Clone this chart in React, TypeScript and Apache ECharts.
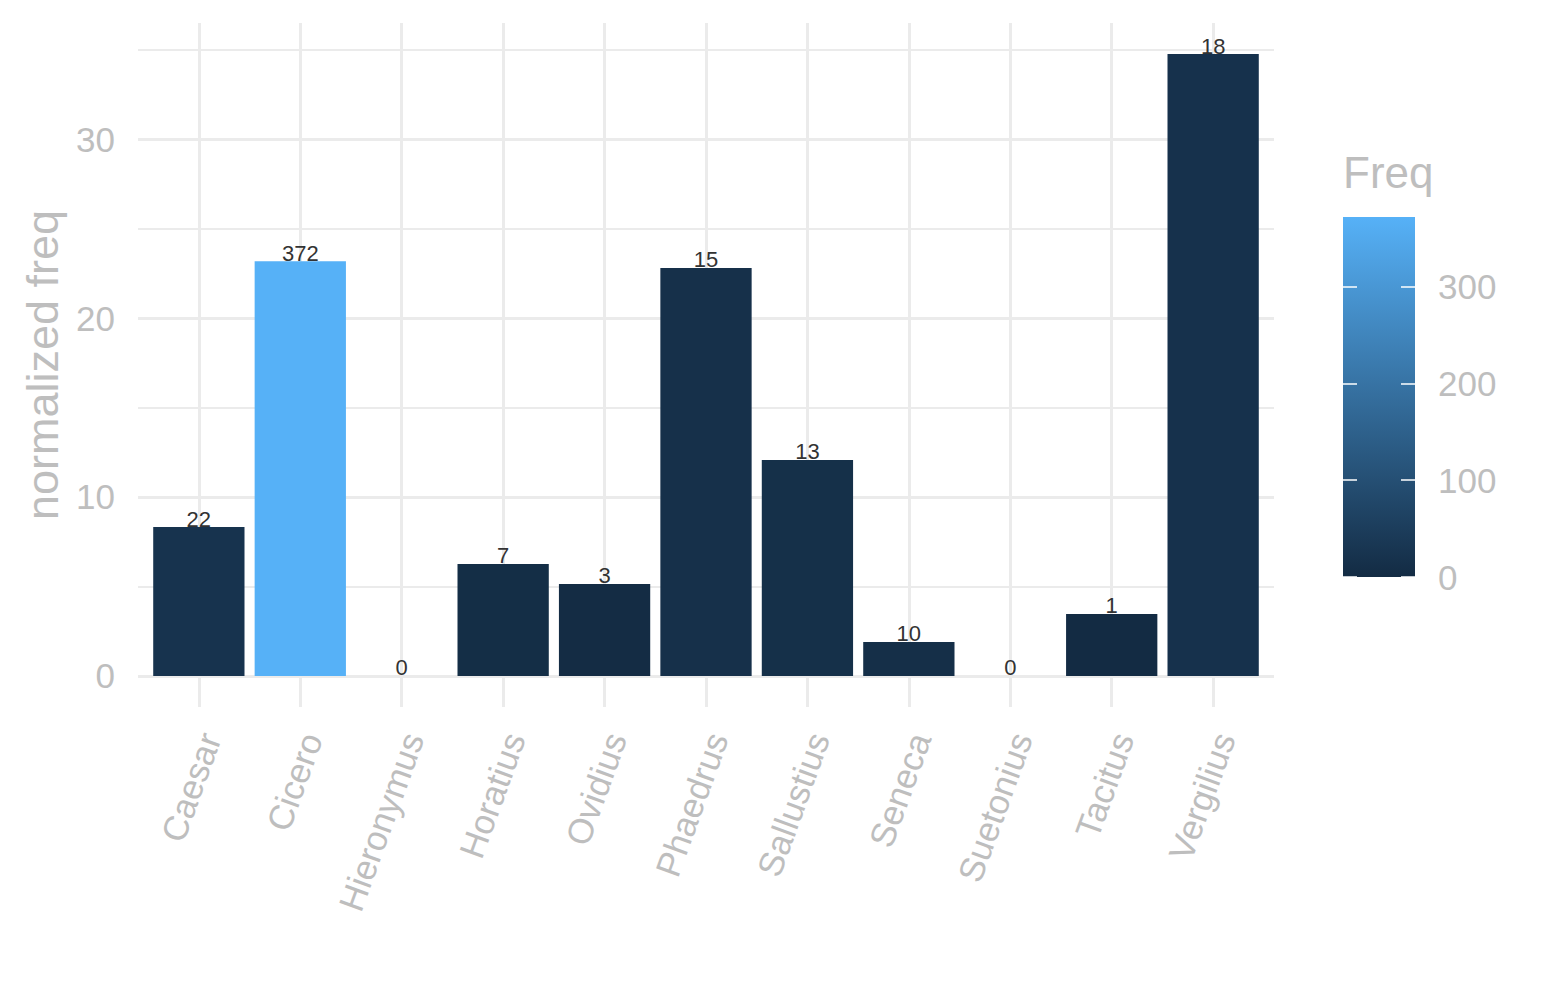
import React, { useEffect, useRef } from 'react'
import * as echarts from 'echarts'

// authors on the x axis
const authors = ['Caesar', 'Cicero', 'Hieronymus', 'Horatius', 'Ovidius', 'Phaedrus', 'Sallustius', 'Seneca', 'Suetonius', 'Tacitus', 'Vergilius'];
// bar heights (normalized freq)
const normFreq = [8.32, 23.18, 0, 6.26, 5.14, 22.8, 12.07, 1.9, 0, 3.46, 34.75];
// raw counts, used for fill colour and the label above each bar
const freq = [22, 372, 0, 7, 3, 15, 13, 10, 0, 1, 18];
// tick labels
const yTicks = [0, 10, 20, 30];
const yMinorTicks = [5, 15, 25, 35];
const legendTicks = [0, 100, 200, 300];

const GRAY = '#BEBEBE';
const GRID = '#EBEBEB';
const FONT = 'Liberation Sans, Arial, Helvetica, sans-serif';

const App: React.FC = () => {
    const chartRef = useRef<HTMLDivElement | null>(null);

    useEffect(() => {
        document.body.style.margin = '0';
        if (!chartRef.current) return;
        const chart = echarts.init(chartRef.current, undefined, { renderer: 'svg' });

        const maxNorm = Math.max(...normFreq);
        const maxFreq = Math.max(...freq);
        // ggplot-style 5% expansion of the y range
        const yMin = -0.05 * maxNorm;
        const yMax = 1.05 * maxNorm;

        const panel = { left: 138, top: 23, width: 1136, height: 684 };
        // category centres span n-1 bands, plus 0.6 band of padding each side
        const band = panel.width / (authors.length - 1 + 1.2);

        const options: any = {
            animation: false,
            textStyle: { fontFamily: FONT },
            title: {
                text: 'Freq',
                left: 1343,
                top: 150,
                padding: 0,
                textStyle: { fontSize: 44, fontWeight: 'normal', color: GRAY, fontFamily: FONT },
            },
            grid: [
                { ...panel, outerBoundsMode: 'none' },
                {
                    left: panel.left + 0.1 * band,
                    top: panel.top,
                    width: band * authors.length,
                    height: panel.height,
                    outerBoundsMode: 'none',
                },
                { left: 1343, top: 217, width: 72, height: 360, outerBoundsMode: 'none' },
            ],
            visualMap: {
                type: 'continuous',
                show: false,
                seriesIndex: 2,
                dimension: 2,
                min: 0,
                max: maxFreq,
                inRange: { color: ['#132B43', '#56B1F7'] },
            },
            xAxis: [
                { type: 'value', gridIndex: 0, min: 0, max: 1, show: false },
                {
                    type: 'category',
                    gridIndex: 1,
                    data: authors,
                    axisLine: { show: false },
                    axisTick: { show: false },
                    splitLine: { show: false },
                    axisLabel: {
                        interval: 0,
                        rotate: 70,
                        fontSize: 35,
                        lineHeight: 24,
                        color: GRAY,
                        margin: 23,
                        verticalAlign: 'top',
                    },
                },
                { type: 'category', gridIndex: 2, data: ['Freq'], show: false },
            ],
            yAxis: [
                {
                    type: 'value',
                    gridIndex: 0,
                    min: yMin,
                    max: yMax,
                    axisLine: { show: false },
                    axisTick: { show: false },
                    splitLine: { show: false },
                    axisLabel: { customValues: yTicks, fontSize: 35, color: GRAY, margin: 23 },
                    name: 'normalized freq',
                    nameLocation: 'middle',
                    nameGap: 66,
                    nameTextStyle: { fontSize: 45, color: GRAY },
                },
                { type: 'value', gridIndex: 1, min: yMin, max: yMax, show: false },
                {
                    type: 'value',
                    gridIndex: 2,
                    position: 'right',
                    min: 0,
                    max: maxFreq,
                    z: 10,
                    axisLine: { show: false },
                    splitLine: { show: false },
                    axisTick: {
                        show: true,
                        inside: true,
                        length: 14,
                        customValues: legendTicks,
                        lineStyle: { color: '#FFFFFF', width: 1.5 },
                    },
                    axisLabel: { customValues: legendTicks, fontSize: 35, color: GRAY, margin: 23 },
                },
                {
                    type: 'value',
                    gridIndex: 2,
                    position: 'left',
                    min: 0,
                    max: maxFreq,
                    z: 10,
                    axisLine: { show: false },
                    splitLine: { show: false },
                    axisLabel: { show: false },
                    axisTick: {
                        show: true,
                        inside: true,
                        length: 14,
                        customValues: legendTicks,
                        lineStyle: { color: '#FFFFFF', width: 1.5 },
                    },
                },
            ],
            series: [
                {
                    // horizontal grid lines across the full panel
                    type: 'line',
                    xAxisIndex: 0,
                    yAxisIndex: 0,
                    data: [],
                    silent: true,
                    z: 0,
                    markLine: {
                        silent: true,
                        z: 0,
                        symbol: 'none',
                        label: { show: false },
                        lineStyle: { color: GRID, type: 'solid' },
                        data: [
                            ...yTicks.map(v => ({ yAxis: v, lineStyle: { width: 3, color: GRID, type: 'solid' } })),
                            ...yMinorTicks.map(v => ({ yAxis: v, lineStyle: { width: 2, color: GRID, type: 'solid' } })),
                        ],
                    },
                },
                {
                    // vertical grid lines at each category
                    type: 'line',
                    xAxisIndex: 1,
                    yAxisIndex: 1,
                    data: [],
                    silent: true,
                    z: 0,
                    markLine: {
                        silent: true,
                        z: 0,
                        symbol: 'none',
                        label: { show: false },
                        lineStyle: { color: GRID, type: 'solid', width: 3 },
                        data: authors.map(a => ({ xAxis: a })),
                    },
                },
                {
                    type: 'bar',
                    xAxisIndex: 1,
                    yAxisIndex: 1,
                    z: 5,
                    barWidth: '90%',
                    data: authors.map((a, i) => [a, normFreq[i], freq[i]]),
                    encode: { x: 0, y: 1 },
                    label: {
                        show: true,
                        position: 'top',
                        distance: -3,
                        fontSize: 22,
                        color: '#333333',
                        formatter: (p: any) => String(p.data[2]),
                    },
                },
                {
                    // colour bar of the Freq legend
                    type: 'bar',
                    xAxisIndex: 2,
                    yAxisIndex: 2,
                    z: 2,
                    silent: true,
                    barWidth: '100%',
                    data: [maxFreq],
                    itemStyle: {
                        color: new echarts.graphic.LinearGradient(0, 0, 0, 1, [
                            { offset: 0, color: '#56B1F7' },
                            { offset: 1, color: '#132B43' },
                        ]),
                    },
                },
            ],
        };

        chart.setOption(options);

        return () => {
            chart.dispose();
        };
    }, []);

    return <div ref={chartRef} style={{ width: '1545px', height: '1000px' }} />;
};

export default App;
